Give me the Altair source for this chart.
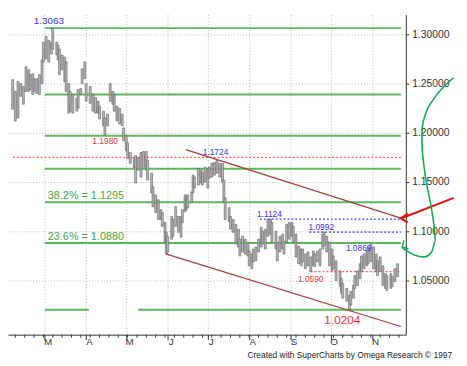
import altair as alt
import pandas as pd

# ---- price bars: day of year 1997 (Jan 1 = 0), high, low ----
bar_day = [35, 37, 39, 41, 43, 45, 47, 48, 50, 51, 53, 55, 57, 58, 60, 62, 64, 65, 68, 69,
           70, 72, 74, 75, 77, 78, 80, 83, 84, 86, 87, 89, 90, 93, 95, 97, 99, 100, 103, 104,
           106, 108, 110, 111, 113, 115, 117, 118, 120, 121, 123, 126, 127, 129, 131, 133, 135, 136, 139, 140,
           142, 144, 146, 147, 149, 150, 151, 154, 155, 157, 159, 161, 162, 164, 165, 166, 169, 170, 171, 174,
           176, 177, 179, 181, 182, 184, 186, 188, 190, 192, 193, 194, 197, 198, 200, 202, 204, 205, 207, 209,
           211, 212, 214, 215, 217, 219, 221, 222, 224, 226, 228, 229, 232, 233, 235, 237, 238, 240, 242, 244,
           245, 247, 249, 251, 252, 254, 256, 258, 260, 261, 263, 265, 267, 268, 270, 272, 274, 275, 277, 280,
           281, 282, 285, 287, 288, 290, 291, 293, 295, 296, 298, 300, 301, 303, 305, 307, 308, 310, 312, 314,
           315, 318, 319, 321, 323]
bar_high = [1.254, 1.242, 1.252, 1.250, 1.247, 1.267, 1.264, 1.259, 1.260, 1.255, 1.255, 1.259, 1.274, 1.292, 1.298, 1.294, 1.292, 1.3063, 1.292, 1.289,
            1.285, 1.279, 1.277, 1.272, 1.250, 1.242, 1.239, 1.235, 1.244, 1.245, 1.265, 1.272, 1.250, 1.247, 1.239, 1.236, 1.232, 1.227, 1.222, 1.215,
            1.219, 1.250, 1.242, 1.239, 1.227, 1.225, 1.219, 1.205, 1.197, 1.190, 1.180, 1.175, 1.177, 1.175, 1.180, 1.181, 1.181, 1.172, 1.159, 1.145,
            1.137, 1.132, 1.122, 1.119, 1.109, 1.099, 1.095, 1.115, 1.112, 1.125, 1.115, 1.115, 1.122, 1.137, 1.135, 1.137, 1.140, 1.157, 1.155, 1.164,
            1.162, 1.160, 1.165, 1.162, 1.165, 1.169, 1.170, 1.1724, 1.169, 1.169, 1.152, 1.134, 1.124, 1.115, 1.112, 1.107, 1.102, 1.092, 1.095, 1.092,
            1.089, 1.080, 1.077, 1.082, 1.084, 1.092, 1.104, 1.100, 1.102, 1.112, 1.1124, 1.109, 1.100, 1.089, 1.095, 1.097, 1.090, 1.107, 1.109, 1.109,
            1.105, 1.097, 1.085, 1.082, 1.082, 1.077, 1.079, 1.074, 1.080, 1.077, 1.080, 1.082, 1.097, 1.0992, 1.095, 1.089, 1.082, 1.075, 1.070, 1.060,
            1.052, 1.047, 1.042, 1.035, 1.039, 1.045, 1.055, 1.060, 1.067, 1.075, 1.077, 1.080, 1.084, 1.0869, 1.084, 1.077, 1.070, 1.074, 1.065, 1.057,
            1.055, 1.057, 1.054, 1.062, 1.067]
bar_low = [1.224, 1.212, 1.215, 1.237, 1.229, 1.242, 1.242, 1.244, 1.239, 1.242, 1.240, 1.239, 1.250, 1.272, 1.275, 1.272, 1.280, 1.285, 1.279, 1.274,
           1.259, 1.264, 1.252, 1.242, 1.220, 1.222, 1.220, 1.222, 1.225, 1.239, 1.250, 1.255, 1.232, 1.230, 1.222, 1.220, 1.220, 1.214, 1.207, 1.198,
           1.207, 1.232, 1.229, 1.222, 1.212, 1.209, 1.207, 1.192, 1.182, 1.174, 1.169, 1.165, 1.149, 1.162, 1.155, 1.165, 1.162, 1.152, 1.139, 1.125,
           1.119, 1.112, 1.112, 1.105, 1.089, 1.077, 1.079, 1.092, 1.095, 1.105, 1.099, 1.094, 1.109, 1.120, 1.122, 1.124, 1.129, 1.139, 1.144, 1.147,
           1.149, 1.147, 1.150, 1.144, 1.154, 1.155, 1.157, 1.159, 1.155, 1.150, 1.130, 1.112, 1.110, 1.102, 1.099, 1.087, 1.084, 1.075, 1.079, 1.077,
           1.075, 1.065, 1.062, 1.069, 1.070, 1.079, 1.084, 1.087, 1.082, 1.095, 1.097, 1.089, 1.082, 1.070, 1.079, 1.082, 1.077, 1.089, 1.092, 1.095,
           1.089, 1.074, 1.067, 1.065, 1.069, 1.062, 1.065, 1.059, 1.065, 1.064, 1.069, 1.065, 1.082, 1.085, 1.079, 1.065, 1.060, 1.062, 1.050, 1.044,
           1.037, 1.032, 1.029, 1.0204, 1.025, 1.032, 1.042, 1.045, 1.052, 1.059, 1.062, 1.065, 1.067, 1.069, 1.062, 1.059, 1.055, 1.059, 1.045, 1.042,
           1.040, 1.042, 1.044, 1.049, 1.054]

# ---- horizontal levels ----
fib_level = [1.3063, 1.2388, 1.1971, 1.1634, 1.1295, 1.0880, 1.0204, 1.0204]
fib_start = [59, 59, 59, 59, 59, 59, 59, 129]
fib_end = [325.5, 325.5, 325.5, 325.5, 325.5, 325.5, 92, 325.5]

red_level = [1.1750, 1.0590]
red_start = [35.2, 258]
blue_level = [1.1124, 1.0992]
blue_start = [220, 257]
level_end = 325.5

# ---- trend channel ----
trend_id = ["upper", "upper", "lower", "lower"]
trend_day = [164.5, 325.5, 149.5, 325.5]
trend_price = [1.183, 1.1133, 1.077, 1.0033]

# ---- labels ----
label_text = ["1.3063", "1.1980", "1.1724", "1.1124", "1.0992", "1.0869", "1.0590", "1.0204",
              "38.2% = 1.1295", "23.6% = 1.0880"]
label_day = [62.1, 104.2, 186.8, 227.1, 265.9, 293.9, 258.0, 281.7, 89.8, 89.8]
label_price = [1.313, 1.192, 1.180, 1.117, 1.104, 1.083, 1.052, 1.010, 1.136, 1.094]
label_color = ["#3333ff", "#ee3333", "#3333ff", "#3333ff", "#3333ff", "#3333ff", "#ee3333", "#ee3333",
               "#44aa44", "#44aa44"]
label_size = [10, 8.5, 8.5, 8.5, 8.5, 8.5, 8.5, 12, 11, 11]

# ---- annotation arrows (outside the plot) ----
red_arrow_id = ["shaft", "shaft", "head", "head", "head"]
red_arrow_day = [365.0, 325.5, 330.6, 325.5, 330.6]
red_arrow_price = [1.134, 1.113, 1.118, 1.113, 1.109]

green_arrow_id = ["curve"] * 16 + ["head"] * 3
green_arrow_day = [365.0, 357.1, 349.9, 344.2, 341.3, 341.3, 342.7, 345.6, 348.5, 350.6, 351.4, 348.5,
                   342.7, 335.6, 329.8, 326.2, 331.2, 326.2, 327.7]
green_arrow_price = [1.256, 1.246, 1.234, 1.220, 1.204, 1.187, 1.167, 1.142, 1.122, 1.102, 1.090, 1.079,
                     1.074, 1.076, 1.080, 1.084, 1.082, 1.084, 1.091]

month_days = [59, 90, 120, 151, 181, 212, 243, 273, 304]
minor_days = [d for d in range(37, 326, 7)]
y_ticks = [1.05, 1.10, 1.15, 1.20, 1.25, 1.30]

footer = "Created with SuperCharts by Omega Research \u00a9 1997"

W, H = 404, 325
XD = [35.2, 325.5]
YD = [0.995, 1.320]

bars = pd.DataFrame({"day": bar_day, "high": bar_high, "low": bar_low})
fib = pd.DataFrame({"level": fib_level, "start": fib_start, "end": fib_end})
red = pd.DataFrame({"level": red_level, "start": red_start, "end": [level_end] * len(red_level)})
blue = pd.DataFrame({"level": blue_level, "start": blue_start, "end": [level_end] * len(blue_level)})
trend = pd.DataFrame({"id": trend_id, "day": trend_day, "price": trend_price, "o": range(len(trend_id))})
labels = pd.DataFrame({"t": label_text, "day": label_day, "price": label_price,
                       "c": label_color, "s": label_size})
rarrow = pd.DataFrame({"id": red_arrow_id, "day": red_arrow_day, "price": red_arrow_price,
                       "o": range(len(red_arrow_id))})
garrow = pd.DataFrame({"id": green_arrow_id, "day": green_arrow_day, "price": green_arrow_price,
                       "o": range(len(green_arrow_id))})
minor = pd.DataFrame({"day": minor_days})

xs = alt.Scale(domain=XD, nice=False, zero=False)
ys = alt.Scale(domain=YD, nice=False, zero=False)

x_axis = alt.Axis(values=month_days, grid=True, gridDash=[1, 2], gridColor="#b8b8b8",
                  labelExpr="substring(utcFormat(utc(1997, 0, 1 + datum.value), '%b'), 0, 1)",
                  tickSize=5, tickColor="#333", domainColor="#333", labelColor="#333",
                  labelFontSize=10, labelAlign="center", labelOffset=3, labelPadding=-3, title=None)
y_axis = alt.Axis(orient="right", values=y_ticks, format=".5f", grid=True, gridDash=[1, 2],
                  gridColor="#b8b8b8", tickSize=3, tickColor="#333", domainColor="#333",
                  labelColor="#333", labelFontSize=10.5, labelPadding=3, title=None)

base_axes = alt.Chart(bars).mark_point(opacity=0).encode(
    x=alt.X("day:Q", scale=xs, axis=x_axis),
    y=alt.Y("high:Q", scale=ys, axis=y_axis),
)

fib_layer = alt.Chart(fib).mark_rule(color="#5cb85c", strokeWidth=2).encode(
    x=alt.X("start:Q", scale=xs), x2="end:Q", y=alt.Y("level:Q", scale=ys))
red_layer = alt.Chart(red).mark_rule(color="#ff5a5a", strokeWidth=1.2, strokeDash=[2, 2]).encode(
    x=alt.X("start:Q", scale=xs), x2="end:Q", y=alt.Y("level:Q", scale=ys))
blue_layer = alt.Chart(blue).mark_rule(color="#3344ff", strokeWidth=1.2, strokeDash=[2, 2]).encode(
    x=alt.X("start:Q", scale=xs), x2="end:Q", y=alt.Y("level:Q", scale=ys))

trend_layer = alt.Chart(trend).mark_line(color="#a0403c", strokeWidth=1.3).encode(
    x=alt.X("day:Q", scale=xs), y=alt.Y("price:Q", scale=ys), detail="id:N", order="o:Q")

bar_layer = alt.Chart(bars).mark_bar(size=2, fill="#b8b8b8", stroke="#4a4a4a", strokeWidth=0.5).encode(
    x=alt.X("day:Q", scale=xs), y=alt.Y("low:Q", scale=ys), y2="high:Q")

label_layer = alt.Chart(labels).mark_text(font="Liberation Sans").encode(
    x=alt.X("day:Q", scale=xs), y=alt.Y("price:Q", scale=ys), text="t:N",
    color=alt.Color("c:N", scale=None), size=alt.Size("s:Q", scale=None))

red_arrow_layer = alt.Chart(rarrow).mark_line(color="#dd1111", strokeWidth=2, clip=False).encode(
    x=alt.X("day:Q", scale=xs), y=alt.Y("price:Q", scale=ys), detail="id:N", order="o:Q")
green_arrow_layer = alt.Chart(garrow).mark_line(color="#11aa55", strokeWidth=1.6, clip=False,
                                                interpolate="monotone").encode(
    x=alt.X("day:Q", scale=xs), y=alt.Y("price:Q", scale=ys), detail="id:N", order="o:Q")

minor_layer = alt.Chart(minor).mark_rule(color="#333", strokeWidth=1).encode(
    x=alt.X("day:Q", scale=xs), y=alt.value(H), y2=alt.value(H + 3))

footer_layer = alt.Chart(pd.DataFrame({"t": [footer]})).mark_text(
    font="Liberation Sans", fontSize=8.5, color="#222", align="right", baseline="middle").encode(
    x=alt.value(451), y=alt.value(345.5), text="t:N")

chart = alt.layer(
    base_axes, fib_layer, red_layer, blue_layer, trend_layer, bar_layer, label_layer,
    red_arrow_layer, green_arrow_layer, minor_layer, footer_layer
).properties(
    width=W, height=H,
    autosize=alt.AutoSizeParams(type="none"),
    padding={"left": 0, "top": 4, "right": 54, "bottom": 25},
).configure(font="Liberation Sans").configure_view(stroke=None)

chart.save("out.html", embed_options={"renderer": "svg", "actions": False})
